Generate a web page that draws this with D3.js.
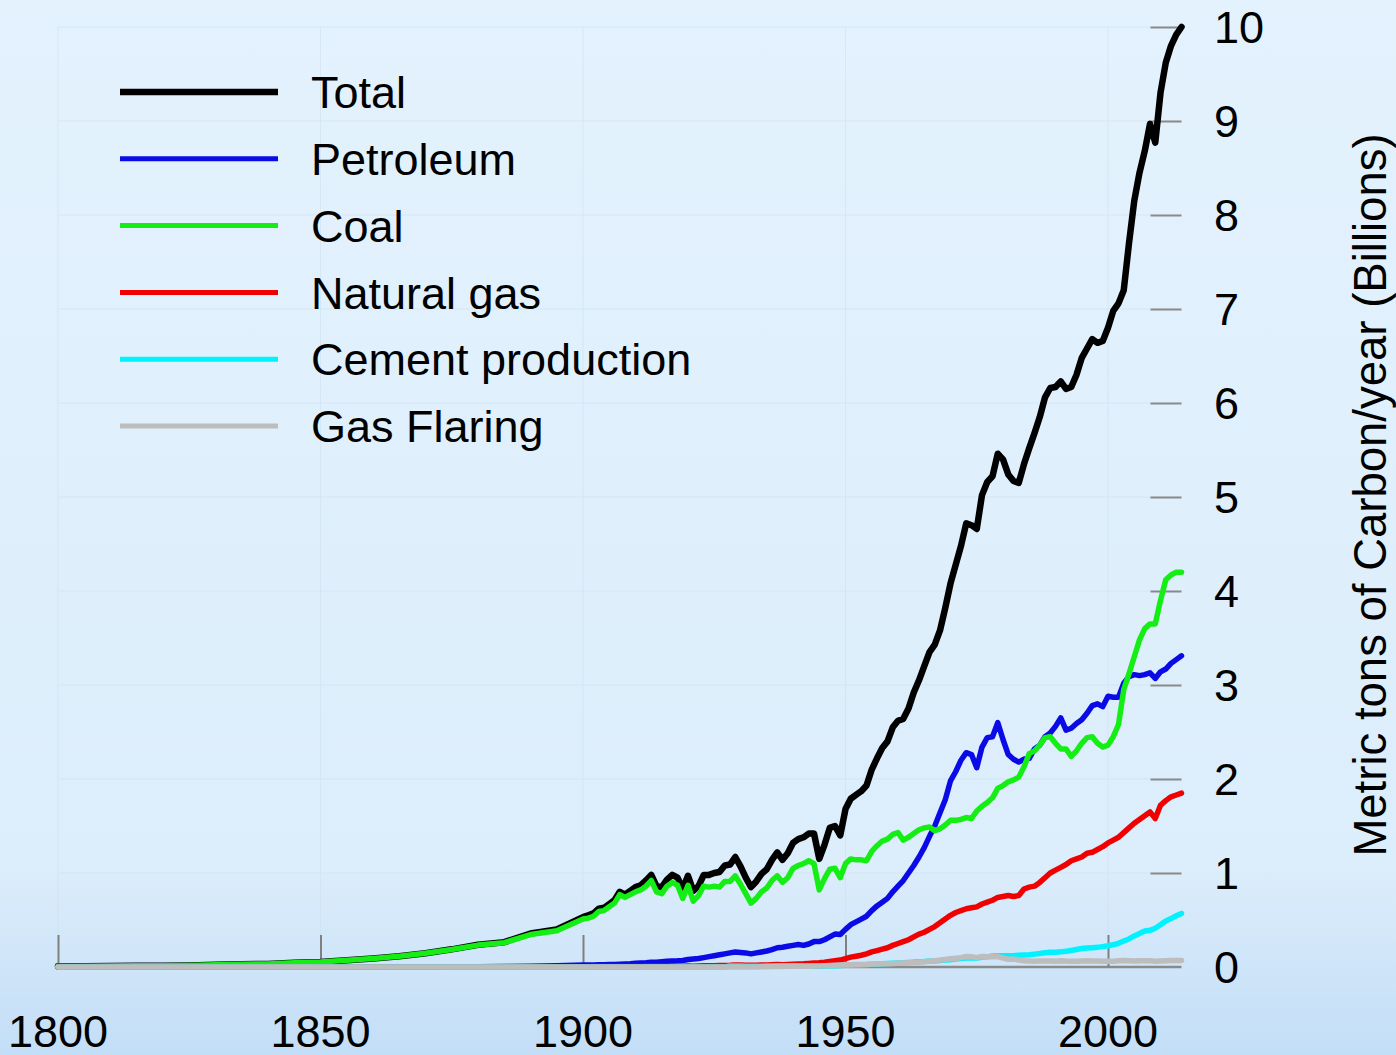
<!DOCTYPE html>
<html><head><meta charset="utf-8">
<script src="https://cdn.jsdelivr.net/npm/d3@7"></script>
<style>html,body{margin:0;padding:0;background:#e0f0fc;} svg{display:block;}</style>
</head><body>
<svg id="chart" width="1396" height="1055"></svg>
<script>
// Years: 5-year steps 1800-1895, then yearly 1900-2014
const years = [...d3.range(1800, 1900, 5), ...d3.range(1900, 2015)];

const total = [
  0.008,0.009,0.010,0.012,0.014,0.017,0.024,0.029,0.033,0.045,0.054,0.072,0.091,0.115,0.147,0.188,0.236,0.264,0.356,0.400,
  0.53,0.55,0.57,0.62,0.63,0.67,0.71,0.80,0.77,0.81,
  0.85,0.87,0.92,0.98,0.86,0.85,0.93,0.98,0.95,0.83,
  0.97,0.81,0.86,0.98,0.98,1.00,1.01,1.08,1.09,1.17,
  1.07,0.95,0.85,0.91,0.99,1.04,1.14,1.22,1.14,1.21,
  1.32,1.36,1.38,1.42,1.42,1.15,1.30,1.48,1.50,1.40,
  1.68,1.79,1.83,1.87,1.93,2.10,2.22,2.33,2.40,2.55,
  2.62,2.64,2.75,2.92,3.05,3.20,3.35,3.43,3.58,3.82,
  4.08,4.28,4.48,4.72,4.70,4.66,5.02,5.16,5.22,5.46,
  5.40,5.24,5.17,5.15,5.35,5.52,5.68,5.85,6.06,6.16,
  6.17,6.23,6.15,6.17,6.30,6.48,6.58,6.68,6.64,6.66,
  6.80,6.98,7.06,7.20,7.70,8.15,8.45,8.68,8.97,8.77,
  9.30,9.62,9.80,9.92,10.0
];

const petroleum = [
  0,0,0,0,0,0,0,0,0,0,0,0,0,0.0005,0.001,0.002,0.003,0.004,0.008,0.012,
  0.020,0.021,0.022,0.023,0.024,0.026,0.027,0.030,0.032,0.035,
  0.040,0.042,0.045,0.050,0.050,0.055,0.060,0.065,0.066,0.070,
  0.080,0.085,0.090,0.100,0.110,0.120,0.130,0.140,0.150,0.160,
  0.155,0.150,0.140,0.150,0.160,0.170,0.185,0.205,0.210,0.220,
  0.230,0.240,0.230,0.245,0.270,0.270,0.290,0.320,0.350,0.345,
  0.40,0.45,0.48,0.51,0.54,0.60,0.65,0.69,0.73,0.80,
  0.86,0.92,1.00,1.08,1.17,1.27,1.39,1.50,1.64,1.78,
  1.98,2.08,2.20,2.28,2.26,2.12,2.34,2.44,2.45,2.60,
  2.42,2.26,2.21,2.18,2.21,2.22,2.32,2.36,2.45,2.49,
  2.56,2.65,2.52,2.54,2.59,2.63,2.70,2.78,2.80,2.77,
  2.88,2.87,2.87,3.02,3.09,3.11,3.10,3.11,3.13,3.07,
  3.14,3.17,3.23,3.27,3.31
];

const coal = [
  0.008,0.009,0.010,0.012,0.014,0.017,0.024,0.029,0.033,0.045,0.054,0.072,0.091,0.114,0.146,0.186,0.233,0.259,0.345,0.385,
  0.51,0.52,0.54,0.59,0.60,0.64,0.68,0.77,0.74,0.77,
  0.80,0.82,0.86,0.92,0.80,0.78,0.86,0.90,0.87,0.73,
  0.87,0.70,0.76,0.86,0.85,0.86,0.85,0.91,0.91,0.97,
  0.88,0.78,0.68,0.73,0.80,0.84,0.92,0.97,0.90,0.95,
  1.05,1.08,1.10,1.13,1.10,0.82,0.94,1.04,1.05,0.95,
  1.10,1.15,1.14,1.14,1.13,1.23,1.29,1.34,1.36,1.41,
  1.43,1.35,1.38,1.42,1.46,1.48,1.49,1.45,1.47,1.51,
  1.56,1.56,1.57,1.59,1.58,1.66,1.71,1.75,1.80,1.90,
  1.93,1.97,1.99,2.02,2.13,2.27,2.30,2.36,2.44,2.45,
  2.38,2.32,2.32,2.24,2.30,2.38,2.44,2.45,2.38,2.34,
  2.36,2.45,2.58,2.95,3.12,3.30,3.48,3.60,3.65,3.65,
  3.90,4.12,4.17,4.20,4.20
];

const naturalGas = [
  0,0,0,0,0,0,0,0,0,0,0,0,0,0,0,0,0,0.001,0.003,0.003,
  0.003,0.003,0.004,0.004,0.004,0.004,0.005,0.005,0.005,0.006,
  0.006,0.006,0.007,0.007,0.007,0.008,0.009,0.009,0.009,0.009,
  0.010,0.009,0.010,0.012,0.013,0.014,0.015,0.017,0.018,0.021,
  0.021,0.019,0.018,0.018,0.020,0.021,0.024,0.026,0.025,0.027,
  0.030,0.032,0.034,0.038,0.042,0.045,0.050,0.058,0.066,0.074,
  0.090,0.105,0.115,0.125,0.140,0.160,0.175,0.190,0.205,0.230,
  0.250,0.270,0.290,0.320,0.350,0.370,0.400,0.430,0.470,0.510,
  0.550,0.580,0.600,0.620,0.630,0.640,0.670,0.690,0.710,0.740,
  0.750,0.760,0.750,0.760,0.830,0.850,0.860,0.900,0.950,1.000,
  1.030,1.060,1.090,1.130,1.150,1.170,1.210,1.220,1.250,1.280,
  1.320,1.350,1.380,1.430,1.480,1.530,1.570,1.610,1.650,1.580,
  1.720,1.770,1.810,1.830,1.850
];

const cement = [
  0,0,0,0,0,0,0,0,0,0,0,0,0,0,0,0,0,0,0,0,
  0,0,0,0,0,0,0,0,0,0,
  0,0,0,0,0,0,0,0,0,0,
  0,0,0,0,0,0,0,0,0.010,0.010,
  0.010,0.009,0.007,0.008,0.009,0.010,0.011,0.012,0.012,0.013,
  0.012,0.012,0.011,0.010,0.008,0.007,0.010,0.012,0.014,0.016,
  0.018,0.020,0.022,0.024,0.026,0.030,0.032,0.035,0.038,0.041,
  0.043,0.045,0.049,0.052,0.057,0.059,0.063,0.065,0.070,0.074,
  0.078,0.084,0.089,0.095,0.096,0.095,0.103,0.108,0.116,0.119,
  0.120,0.121,0.121,0.125,0.128,0.131,0.137,0.143,0.152,0.156,
  0.157,0.161,0.167,0.176,0.186,0.197,0.202,0.205,0.209,0.217,
  0.226,0.237,0.252,0.276,0.298,0.330,0.356,0.382,0.390,0.413,
  0.450,0.490,0.515,0.545,0.570
];

const gasFlaring = [
  0,0,0,0,0,0,0,0,0,0,0,0,0,0,0,0,0,0,0,0,
  0,0,0,0,0,0,0,0,0,0,
  0,0,0,0,0,0,0,0,0,0,
  0,0,0,0,0,0,0,0,0,0,
  0,0,0,0,0.002,0.003,0.004,0.005,0.006,0.007,
  0.008,0.008,0.008,0.009,0.010,0.011,0.013,0.016,0.019,0.021,
  0.023,0.024,0.026,0.027,0.027,0.031,0.033,0.035,0.035,0.036,
  0.039,0.042,0.044,0.047,0.051,0.055,0.060,0.066,0.073,0.080,
  0.087,0.092,0.100,0.112,0.110,0.100,0.112,0.110,0.110,0.112,
  0.095,0.082,0.084,0.075,0.067,0.064,0.061,0.063,0.063,0.064,
  0.062,0.066,0.063,0.062,0.062,0.064,0.066,0.064,0.064,0.060,
  0.061,0.062,0.066,0.068,0.066,0.065,0.066,0.066,0.066,0.062,
  0.065,0.066,0.068,0.068,0.068
];

const seriesNames = ["Total", "Petroleum", "Coal", "Natural gas", "Cement production", "Gas Flaring"];
const seriesColors = ["#000000", "#0a0ae6", "#14ee14", "#f00000", "#00f2ff", "#bdbdbd"];
const seriesWidths = [6.5, 5.5, 5.5, 5.5, 5.5, 5.5];
const seriesValues = [total, petroleum, coal, naturalGas, cement, gasFlaring];

const xTicks = [1800, 1850, 1900, 1950, 2000];
const yTicks = [0, 1, 2, 3, 4, 5, 6, 7, 8, 9, 10];
const yTitle = "Metric tons of Carbon/year (Billions)";

const svg = d3.select("#chart");
const W = 1396, H = 1055;
const font = "'Liberation Sans', Arial, Helvetica, sans-serif";

// background gradient
const defs = svg.append("defs");
const grad = defs.append("linearGradient").attr("id", "bg").attr("x1", 0).attr("y1", 0).attr("x2", 0).attr("y2", 1);
grad.append("stop").attr("offset", "0%").attr("stop-color", "#e3f2fd");
grad.append("stop").attr("offset", "82%").attr("stop-color", "#dcedfb");
grad.append("stop").attr("offset", "100%").attr("stop-color", "#c3def7");
svg.append("rect").attr("width", W).attr("height", H).attr("fill", "url(#bg)");

const x = d3.scaleLinear().domain([1800, 2014]).range([58, 1181.5]);
const y = d3.scaleLinear().domain([0, 10]).range([967, 27]);

// faint grid
const grid = svg.append("g").attr("stroke", "#cfe1f0").attr("stroke-width", 1).attr("opacity", 0.6);
grid.selectAll("line.h").data(yTicks.filter(d => d > 0)).join("line")
  .attr("x1", x(1800)).attr("x2", x(2014)).attr("y1", d => y(d)).attr("y2", d => y(d));
grid.selectAll("line.v").data(xTicks).join("line")
  .attr("x1", d => x(d)).attr("x2", d => x(d)).attr("y1", y(10)).attr("y2", y(0));

// x axis (baseline + upward ticks)
const xAxis = svg.append("g").attr("transform", `translate(0,${y(0)})`)
  .call(d3.axisTop(x).tickValues(xTicks).tickSize(32).tickFormat(""));
xAxis.select(".domain").attr("stroke", "#8a8a8a").attr("stroke-width", 2.5).attr("d", `M${x(1800)},0H${x(2014)}`);
xAxis.selectAll(".tick line").attr("stroke", "#808080").attr("stroke-width", 2);
svg.append("g").selectAll("text").data(xTicks).join("text")
  .attr("x", d => x(d)).attr("y", 1047)
  .attr("text-anchor", "middle")
  .attr("font-family", font).attr("font-size", 45).attr("fill", "#000")
  .text(d => d);

// y axis on the right, ticks pointing left
const yAxis = svg.append("g").attr("transform", `translate(${x(2014)},0)`)
  .call(d3.axisLeft(y).tickValues(yTicks.filter(d => d > 0)).tickSize(31).tickFormat(""));
yAxis.select(".domain").remove();
yAxis.selectAll(".tick line").attr("stroke", "#8a8a8a").attr("stroke-width", 2);
svg.append("g").selectAll("text").data(yTicks).join("text")
  .attr("x", 1214).attr("y", d => y(d)).attr("dy", "0.36em")
  .attr("font-family", font).attr("font-size", 45).attr("fill", "#000")
  .text(d => d);

svg.append("text")
  .attr("transform", `translate(1370,${(y(0) + y(10)) / 2 - 2}) rotate(-90)`)
  .attr("text-anchor", "middle").attr("dy", "0.36em")
  .attr("font-family", font).attr("font-size", 45.5).attr("fill", "#000")
  .text(yTitle);

// lines
const line = d3.line().x(d => x(d[0])).y(d => y(d[1]));
const lines = svg.append("g").attr("fill", "none").attr("stroke-linejoin", "round").attr("stroke-linecap", "round");
seriesValues.forEach((vals, i) => {
  lines.append("path")
    .datum(years.map((yr, k) => [yr, vals[k]]))
    .attr("d", line)
    .attr("stroke", seriesColors[i])
    .attr("stroke-width", seriesWidths[i]);
});

// legend
const legend = svg.append("g");
seriesNames.forEach((name, i) => {
  const ly = 92 + i * 66.8;
  legend.append("line").attr("x1", 120).attr("x2", 278).attr("y1", ly).attr("y2", ly)
    .attr("stroke", seriesColors[i]).attr("stroke-width", i === 0 ? 6.5 : 5);
  legend.append("text").attr("x", 311).attr("y", ly).attr("dy", "0.36em")
    .attr("font-family", font).attr("font-size", 45).attr("fill", "#000").text(name);
});
</script>
</body></html>
